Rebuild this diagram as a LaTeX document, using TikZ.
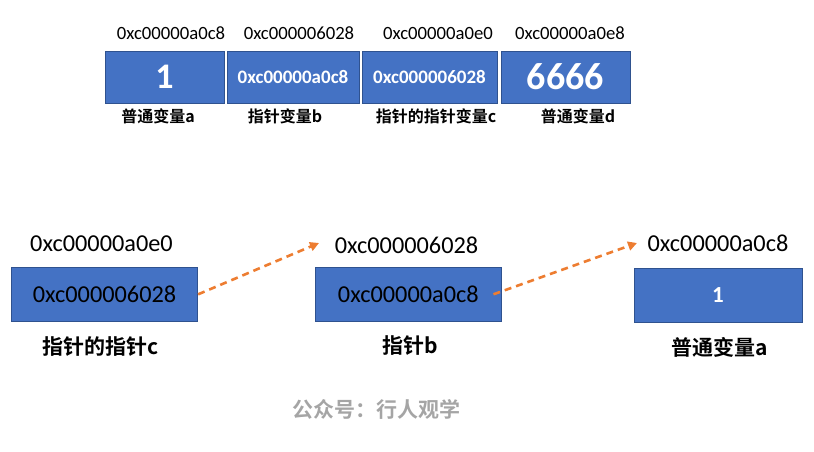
\documentclass[tikz,border=0pt]{standalone}
\usepackage{fontspec}
\setmainfont{Carlito}
\newfontfamily\cjk{Noto Sans CJK SC}[BoldFont={Noto Sans CJK SC Bold}]
\usetikzlibrary{arrows.meta}
\definecolor{cellBlue}{RGB}{68,114,196}
\definecolor{cellEdge}{RGB}{47,82,143}
\definecolor{arrowOrange}{RGB}{237,125,49}
\definecolor{markGray}{RGB}{165,165,165}

\begin{document}
\begin{tikzpicture} [x = 1pt, y = -1pt,
	cell/.style = {fill=cellBlue, draw=cellEdge, line width=0.4pt, text=white, inner sep=0pt, minimum height=52pt},
	box/.style = {fill=cellBlue, draw=cellEdge, line width=0.8pt, inner sep=0pt, minimum width=186.5pt, minimum height=54.5pt, font=\fontsize{24.3}{28}\selectfont},
	addr/.style = {inner sep=0pt, font=\fontsize{18.7}{22}\selectfont},
	bigAddr/.style = {inner sep=0pt, font=\fontsize{24.3}{28}\selectfont},
	tag/.style = {inner sep=0pt, font={\cjk\bfseries\fontsize{16}{19}\selectfont}},
	bigTag/.style = {inner sep=0pt, font={\cjk\bfseries\fontsize{21}{25}\selectfont}},
	pointer/.style = {draw=arrowOrange, line width=2.6pt, dash pattern=on 7pt off 5pt, -{Triangle[length=9pt, width=9pt]}}]

	\useasboundingbox (0, 0) rectangle (814, 451);

% Memory row.

	%cells
	\node [cell, minimum width=119pt] (cellA) at (164.5, 77) {\fontsize{36}{40}\selectfont\bfseries 1};
	\node [cell, minimum width=132pt] (cellB) at (293, 77) {\fontsize{19}{22}\selectfont\bfseries 0xc00000a0c8};
	\node [cell, minimum width=135pt] (cellC) at (429.5, 77) {\fontsize{19}{22}\selectfont\bfseries 0xc000006028};
	\node [cell, minimum width=129pt] (cellD) at (565.5, 77) {\fontsize{38}{42}\selectfont\bfseries 6666};

	%addresses above
	\node [addr] (addrA) at (171, 33) {0xc00000a0c8};
	\node [addr] (addrB) at (299, 33) {0xc000006028};
	\node [addr] (addrC) at (438, 33) {0xc00000a0e0};
	\node [addr] (addrD) at (570, 33) {0xc00000a0e8};

	%names below
	\node [tag] (tagA) at (158, 116) {普通变量a};
	\node [tag] (tagB) at (285, 116) {指针变量b};
	\node [tag] (tagC) at (436, 116) {指针的指针变量c};
	\node [tag] (tagD) at (578, 116) {普通变量d};

% Pointer chain.

	\node [box] (ptrC) at (104.5, 294.3) {0xc000006028};
	\node [box] (ptrB) at (408.3, 294.3) {0xc00000a0c8};
	\node [box, minimum width=168pt, text=white] (varA) at (718, 295.3) {\fontsize{23}{26}\selectfont\bfseries 1};

	\node [bigAddr] (locC) at (101.5, 244) {0xc00000a0e0};
	\node [bigAddr] (locB) at (406.5, 245) {0xc000006028};
	\node [bigAddr] (locA) at (718, 243) {0xc00000a0c8};

	\node [bigTag] (nameC) at (101, 347) {指针的指针c};
	\node [bigTag] (nameB) at (410, 346) {指针b};
	\node [bigTag] (nameA) at (720, 347) {普通变量a};

	%arrow ends
	\coordinate (tipB) at (319, 243);
	\coordinate (tipA) at (637, 243);

	\draw [pointer] (ptrC.east) -- (tipB);
	\draw [pointer] ([xshift=-8.5pt]ptrB.east) -- (tipA);

% Watermark.

	\node [bigTag, text=markGray] (mark) at (376, 409) {公众号：行人观学};

\end{tikzpicture}
\end{document}
